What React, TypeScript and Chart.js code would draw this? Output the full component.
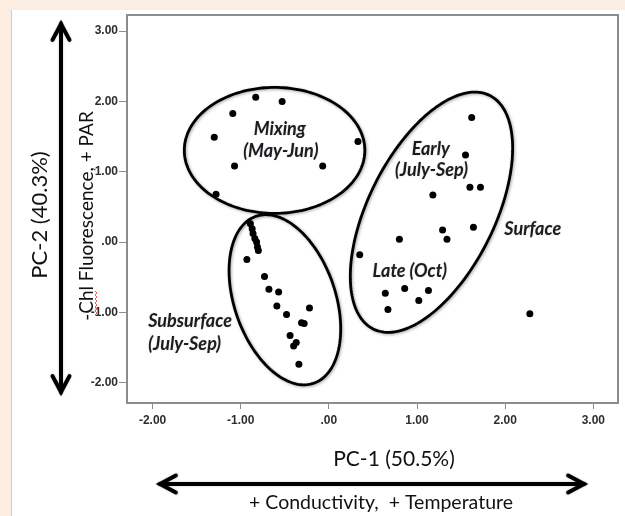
import React, { useEffect, useRef } from "react";
import { Chart, registerables } from "chart.js";

Chart.register(...registerables);

// ---- Data (PC-1, PC-2 scores) ----
const mixingPC1 = [-0.83, -0.53, -1.09, -1.3, -1.07, -0.07, 0.33, -1.28];
const mixingPC2 = [2.06, 2.0, 1.83, 1.49, 1.08, 1.08, 1.43, 0.68];

const surfacePC1 = [1.62, 1.55, 1.6, 1.72, 1.18, 1.64, 1.29, 1.34, 0.8, 0.35, 0.64, 0.86, 1.13, 1.02, 0.67, 2.28];
const surfacePC2 = [1.77, 1.24, 0.78, 0.78, 0.67, 0.21, 0.17, 0.04, 0.04, -0.18, -0.73, -0.66, -0.69, -0.83, -0.96, -1.02];

const subsurfacePC1 = [-0.89, -0.87, -0.86, -0.84, -0.82, -0.81, -0.8, -0.93, -0.73, -0.68, -0.57, -0.59, -0.22, -0.48, -0.31, -0.28, -0.44, -0.37, -0.4, -0.34];
const subsurfacePC2 = [0.26, 0.19, 0.12, 0.05, 0.0, -0.07, -0.12, -0.25, -0.49, -0.67, -0.71, -0.91, -0.94, -1.03, -1.15, -1.16, -1.33, -1.43, -1.48, -1.74];

const xTicks = [-2, -1, 0, 1, 2, 3];
const yTicks = [-2, -1, 0, 1, 2, 3];

// Group ellipses in data units: centre, semi-axis vector A, semi-axis vector B
const ellipseNames = ["Mixing", "Surface", "Subsurface"];
const ellipseCenters = [[-0.616, 1.304], [1.164, 0.424], [-0.499, -0.821]];
const ellipseAxisA = [[1.024, 0], [0.662, 1.66], [0.329, -1.187]];
const ellipseAxisB = [[0, 0.896], [0.64, -0.405], [-0.541, -0.238]];

// Annotation labels (data positions)
const labelTexts = ["Mixing", "(May-Jun)", "Early", "(July-Sep)", "Surface", "Late (Oct)", "Subsurface", "(July-Sep)"];
const labelPC1 = [-0.556, -0.544, 1.156, 1.164, 2.313, 0.918, -2.049, -2.049];
const labelPC2 = [1.6, 1.286, 1.319, 1.019, 0.186, -0.41, -1.124, -1.457];
const labelAlign = ["center", "center", "center", "center", "center", "center", "left", "left"];

const toPoints = (xs: number[], ys: number[]) => xs.map((x, i) => ({ x, y: ys[i] }));

const drawArrow = (ctx: CanvasRenderingContext2D, x1: number, y1: number, x2: number, y2: number) => {
  const ang = Math.atan2(y2 - y1, x2 - x1);
  const head = (tx: number, ty: number, a: number) => {
    const len = 18;
    const spread = 0.49;
    ctx.beginPath();
    ctx.moveTo(tx - len * Math.cos(a - spread), ty - len * Math.sin(a - spread));
    ctx.lineTo(tx, ty);
    ctx.lineTo(tx - len * Math.cos(a + spread), ty - len * Math.sin(a + spread));
    ctx.stroke();
  };
  ctx.save();
  ctx.strokeStyle = "#000";
  ctx.lineWidth = 4;
  ctx.lineCap = "round";
  ctx.lineJoin = "miter";
  ctx.shadowColor = "rgba(0,0,0,0.3)";
  ctx.shadowBlur = 2;
  ctx.beginPath();
  ctx.moveTo(x1, y1);
  ctx.lineTo(x2, y2);
  ctx.stroke();
  head(x2, y2, ang);
  head(x1, y1, ang + Math.PI);
  ctx.restore();
};

const decorPlugin = {
  id: "decor",
  beforeDraw(chart: any) {
    const ctx = chart.ctx as CanvasRenderingContext2D;
    const { width, height } = chart;
    ctx.save();
    ctx.fillStyle = "#fcede2";
    ctx.fillRect(0, 0, width, height);
    ctx.fillStyle = "#ffffff";
    ctx.fillRect(12, 10, width - 12, height - 10);
    ctx.strokeStyle = "#d8c8bc";
    ctx.lineWidth = 1;
    ctx.beginPath();
    ctx.moveTo(11.5, 10);
    ctx.lineTo(11.5, height);
    ctx.stroke();
    ctx.restore();
  },
  beforeDatasetsDraw(chart: any) {
    const ctx = chart.ctx as CanvasRenderingContext2D;
    const xs = chart.scales.x;
    const ys = chart.scales.y;
    const ca = chart.chartArea;
    ctx.save();
    // plot frame
    ctx.strokeStyle = "#8c8c8c";
    ctx.lineWidth = 2;
    ctx.strokeRect(ca.left, ca.top, ca.right - ca.left, ca.bottom - ca.top);
    // ellipses
    ctx.strokeStyle = "#000";
    ctx.lineWidth = 2.8;
    ctx.shadowColor = "rgba(0,0,0,0.35)";
    ctx.shadowBlur = 3;
    ctx.shadowOffsetX = 1;
    ctx.shadowOffsetY = 1;
    ellipseNames.forEach((_, k) => {
      const [cx, cy] = ellipseCenters[k];
      const [ax, ay] = ellipseAxisA[k];
      const [bx, by] = ellipseAxisB[k];
      ctx.beginPath();
      const n = 180;
      for (let i = 0; i <= n; i++) {
        const t = (i / n) * Math.PI * 2;
        const vx = cx + ax * Math.cos(t) + bx * Math.sin(t);
        const vy = cy + ay * Math.cos(t) + by * Math.sin(t);
        const px = xs.getPixelForValue(vx);
        const py = ys.getPixelForValue(vy);
        if (i === 0) ctx.moveTo(px, py);
        else ctx.lineTo(px, py);
      }
      ctx.closePath();
      ctx.stroke();
    });
    ctx.restore();
  },
  afterDraw(chart: any) {
    const ctx = chart.ctx as CanvasRenderingContext2D;
    const xs = chart.scales.x;
    const ys = chart.scales.y;
    ctx.save();
    // group labels
    ctx.fillStyle = "#1b1b24";
    ctx.font = "italic bold 18px Lato, 'Liberation Sans', sans-serif";
    ctx.textBaseline = "middle";
    ctx.shadowColor = "rgba(120,100,60,0.35)";
    ctx.shadowBlur = 1.5;
    labelTexts.forEach((t, i) => {
      ctx.textAlign = labelAlign[i] as CanvasTextAlign;
      ctx.fillText(t, xs.getPixelForValue(labelPC1[i]), ys.getPixelForValue(labelPC2[i]));
    });
    ctx.restore();

    ctx.save();
    ctx.fillStyle = "#111";
    ctx.textAlign = "center";
    ctx.textBaseline = "middle";
    // x-axis titles
    ctx.font = "21px Lato, 'Liberation Sans', sans-serif";
    ctx.fillText("PC-1 (50.5%)", 394, 459);
    ctx.font = "19.5px Lato, 'Liberation Sans', sans-serif";
    ctx.fillText("+ Conductivity,  + Temperature", 381, 503);
    // y-axis titles
    ctx.save();
    ctx.translate(40, 215);
    ctx.rotate(-Math.PI / 2);
    ctx.font = "22px Lato, 'Liberation Sans', sans-serif";
    ctx.fillText("PC-2 (40.3%)", 0, 0);
    ctx.restore();
    ctx.save();
    ctx.translate(87, 216);
    ctx.rotate(-Math.PI / 2);
    ctx.font = "19px Lato, 'Liberation Sans', sans-serif";
    ctx.fillText("-Chl Fluorescence, + PAR", 0, 0);
    ctx.restore();
    // red spell-check squiggle under "Chl"
    ctx.strokeStyle = "#f06060";
    ctx.lineWidth = 1;
    ctx.beginPath();
    for (let i = 0; i <= 12; i++) {
      const yy = 291 + i * 2;
      const xx = i % 2 === 0 ? 95 : 97;
      if (i === 0) ctx.moveTo(xx, yy);
      else ctx.lineTo(xx, yy);
    }
    ctx.stroke();
    ctx.restore();

    // arrows
    drawArrow(ctx, 160, 484, 584, 484);
    drawArrow(ctx, 61, 24, 61, 392);
  },
};

export default function App() {
  const canvasRef = useRef<HTMLCanvasElement | null>(null);

  useEffect(() => {
    document.body.style.margin = "0";
    const canvas = canvasRef.current;
    if (!canvas) return;
    const pointStyle = {
      backgroundColor: "#000",
      borderColor: "#000",
      pointRadius: 3.5,
      pointHoverRadius: 3.5,
      borderWidth: 0,
      showLine: false,
    };
    const tickFont = { family: "'Liberation Sans', Arial, sans-serif", weight: "bold", size: 12 };
    const fmt = (v: any) => (Number(v) === 0 ? ".00" : Number(v).toFixed(2));
    const chart = new Chart(canvas, {
      type: "scatter",
      data: {
        datasets: [
          { label: "Mixing (May-Jun)", data: toPoints(mixingPC1, mixingPC2), ...pointStyle },
          { label: "Surface", data: toPoints(surfacePC1, surfacePC2), ...pointStyle },
          { label: "Subsurface (July-Sep)", data: toPoints(subsurfacePC1, subsurfacePC2), ...pointStyle },
        ],
      },
      options: {
        responsive: false,
        animation: false,
        devicePixelRatio: 1,
        layout: { padding: { left: 0, top: 15, right: 7, bottom: 0 } },
        plugins: { legend: { display: false }, tooltip: { enabled: false }, title: { display: false } },
        scales: {
          x: {
            type: "linear",
            min: -2.29,
            max: 3.28,
            afterBuildTicks: (s: any) => {
              s.ticks = xTicks.map((v) => ({ value: v }));
            },
            afterFit: (s: any) => {
              s.height = 113;
            },
            grid: { drawOnChartArea: false, drawTicks: true, tickLength: 6, color: "#8c8c8c", lineWidth: 1 },
            border: { display: false },
            ticks: { padding: 4, color: "#2e2e2e", font: tickFont, callback: fmt, maxRotation: 0 },
          },
          y: {
            type: "linear",
            min: -2.29,
            max: 3.23,
            afterBuildTicks: (s: any) => {
              s.ticks = yTicks.map((v) => ({ value: v }));
            },
            afterFit: (s: any) => {
              s.width = 127;
            },
            grid: { drawOnChartArea: false, drawTicks: true, tickLength: 8, color: "#8c8c8c", lineWidth: 1 },
            border: { display: false },
            ticks: { padding: 1, color: "#2e2e2e", font: tickFont, callback: fmt },
          },
        },
      },
      plugins: [decorPlugin],
    } as any);
    return () => chart.destroy();
  }, []);

  return (
    <div style={{ position: "absolute", left: 0, top: 0, width: 625, height: 516 }}>
      <canvas ref={canvasRef} width={625} height={516} />
    </div>
  );
}
